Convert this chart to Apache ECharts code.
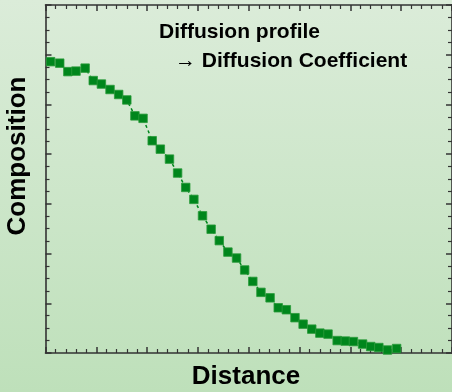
<!DOCTYPE html>
<html>
<head>
<meta charset="utf-8">
<script src="https://cdn.jsdelivr.net/npm/echarts@6/dist/echarts.min.js"></script>
<style>
  html, body { margin: 0; padding: 0; }
  #chart { width: 452px; height: 392px; }
</style>
</head>
<body>
<div id="chart"></div>
<script>
// Measured diffusion profile: position along the sample vs. composition
const distance = [1.0, 2.8, 4.4, 6.0, 7.8, 9.4, 11.0, 12.7, 14.4, 16.0, 17.6, 19.2,
  21.0, 22.6, 24.4, 26.0, 27.6, 29.2, 30.9, 32.6, 34.2, 35.9, 37.6, 39.2,
  40.8, 42.4, 44.2, 45.8, 47.4, 49.1, 50.7, 52.4, 54.0, 55.6, 57.4, 59.0,
  60.6, 62.4, 64.0, 65.6, 67.3, 69.1];
const composition = [58.6, 58.3, 56.6, 56.7, 57.3, 54.8, 54.1, 53.0, 52.0, 50.9, 47.7, 47.2,
  42.7, 41.0, 39.0, 36.2, 33.3, 30.9, 27.6, 24.9, 22.6, 20.3, 19.1, 16.7,
  14.4, 12.2, 11.1, 9.1, 8.7, 7.1, 5.8, 4.8, 4.0, 3.8, 2.5, 2.4,
  2.3, 1.8, 1.3, 1.1, 0.6, 0.9];

const xRange = [0, 80];
const yRange = [0, 70];
const titleLines = ['Diffusion profile', '\u2192 Diffusion Coefficient'];
const xName = 'Distance';
const yName = 'Composition';

const points = distance.map((d, i) => [d, composition[i]]);

const axisColor = '#333333';
const green = '#00861c';

// Boxed frame: every side carries inward major and minor ticks
function frameAxis(extra, split) {
  return Object.assign({
    type: 'value',
    interval: 10,
    axisLine: { show: true, onZero: false, lineStyle: { color: axisColor, width: 1.6 } },
    axisTick: { show: true, inside: true, length: 6, lineStyle: { color: axisColor, width: 1.5 } },
    minorTick: { show: true, splitNumber: split, length: 4, lineStyle: { color: axisColor, width: 1.2 } },
    axisLabel: { show: false },
    splitLine: { show: false },
    minorSplitLine: { show: false }
  }, extra);
}

const chart = echarts.init(document.getElementById('chart'), null, { renderer: 'canvas' });

chart.setOption({
  backgroundColor: new echarts.graphic.LinearGradient(0, 0, 0, 1, [
    { offset: 0, color: '#dbecd9' },
    { offset: 1, color: '#bee0ba' }
  ]),
  animation: false,
  grid: { left: 45.5, top: 5, width: 410.5, height: 348 },
  xAxis: [
    frameAxis({ min: xRange[0], max: xRange[1], position: 'bottom' }, 5),
    frameAxis({ min: xRange[0], max: xRange[1], position: 'top' }, 5)
  ],
  yAxis: [
    frameAxis({ min: yRange[0], max: yRange[1], position: 'left' }, 4),
    frameAxis({ min: yRange[0], max: yRange[1], position: 'right' }, 4)
  ],
  series: [{
    type: 'line',
    data: points,
    symbol: 'rect',
    symbolSize: 8.5,
    lineStyle: { color: green, width: 1.5, type: [3, 3] },
    itemStyle: { color: green, borderColor: '#2a9a3a', borderWidth: 0.8 },
    z: 3
  }],
  graphic: [
    {
      type: 'text', left: 159, top: 22,
      style: { text: titleLines[0], font: 'bold 21px "Liberation Sans", Arial, sans-serif', fill: '#000' }
    },
    {
      type: 'text', left: 175, top: 51,
      style: { text: titleLines[1], font: 'bold 21px "Liberation Sans", Arial, sans-serif', fill: '#000' }
    },
    {
      type: 'text', x: 246, y: 377,
      style: { text: xName, font: 'bold 26px "Liberation Sans", Arial, sans-serif', fill: '#000',
               align: 'center', verticalAlign: 'middle' }
    },
    {
      type: 'text', x: 17.5, y: 156, rotation: Math.PI / 2,
      style: { text: yName, font: 'bold 26px "Liberation Sans", Arial, sans-serif', fill: '#000',
               align: 'center', verticalAlign: 'middle' }
    }
  ]
});
</script>
</body>
</html>
